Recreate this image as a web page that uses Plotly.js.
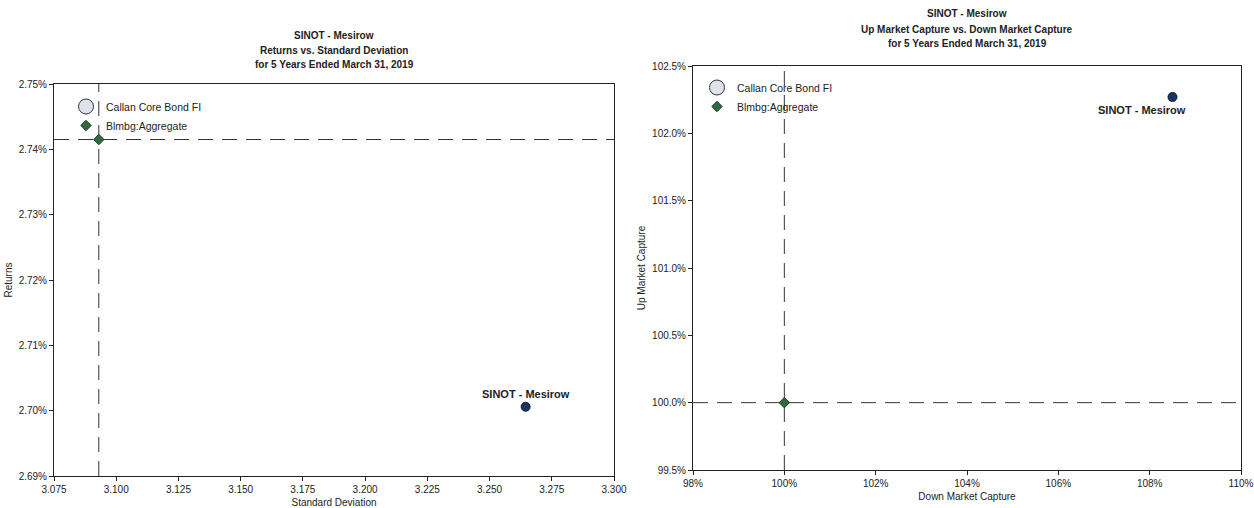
<!DOCTYPE html>
<html>
<head>
<meta charset="utf-8">
<script src="https://cdn.plot.ly/plotly-3.0.1.min.js"></script>
<style>
  html, body { margin: 0; padding: 0; background: #fff; }
  #chart { width: 1254px; height: 508px; }
</style>
</head>
<body>
<div id="chart"></div>
<script>
// ---- Data ----
const managerName = 'SINOT - Mesirow';
const benchmarkName = 'Blmbg:Aggregate';
const peerGroupName = 'Callan Core Bond FI';

// Returns vs Standard Deviation
const stdDev = [3.2645, 3.093];      // [manager, benchmark]
const returnsPct = [2.7006, 2.7415]; // [manager, benchmark]

// Up vs Down market capture
const downCapture = [108.5, 100.0];  // [manager, benchmark]
const upCapture = [102.27, 100.0];   // [manager, benchmark]

const leftTitle = ['SINOT - Mesirow', 'Returns vs. Standard Deviation', 'for 5 Years Ended March 31, 2019'];
const rightTitle = ['SINOT - Mesirow', 'Up Market Capture vs. Down Market Capture', 'for 5 Years Ended March 31, 2019'];

const leftXTicks = [3.075, 3.100, 3.125, 3.150, 3.175, 3.200, 3.225, 3.250, 3.275, 3.300];
const leftYTicks = [2.69, 2.70, 2.71, 2.72, 2.73, 2.74, 2.75];
const rightXTicks = [98, 100, 102, 104, 106, 108, 110];
const rightYTicks = [99.5, 100.0, 100.5, 101.0, 101.5, 102.0, 102.5];

// ---- Styles ----
const FONT = '"Liberation Sans", Arial, sans-serif';
const TXT = '#222';
const managerColor = '#1d3461';
const benchColor = '#2f6b3e';
const peerFill = '#dfe2ea';
const dashStyle = '15px,9px';

function axisBase(extra) {
  return Object.assign({
    showline: true, mirror: true, linecolor: '#222', linewidth: 1,
    ticks: 'outside', ticklen: 4, tickcolor: '#222', tickwidth: 1,
    showgrid: false, zeroline: false, fixedrange: true,
    tickfont: { family: FONT, size: 10, color: TXT },
    automargin: false, tickmode: 'array'
  }, extra);
}

const traces = [
  // Left chart
  { x: [null], y: [null], xaxis: 'x', yaxis: 'y', mode: 'markers', name: peerGroupName,
    legend: 'legend',
    marker: { symbol: 'circle', size: 15, color: peerFill, line: { color: '#333', width: 1 } } },
  { x: [stdDev[1]], y: [returnsPct[1]], xaxis: 'x', yaxis: 'y', mode: 'markers', name: benchmarkName,
    legend: 'legend',
    marker: { symbol: 'diamond', size: 8, color: benchColor, line: { color: '#1a3a22', width: 1 } } },
  { x: [stdDev[0]], y: [returnsPct[0]], xaxis: 'x', yaxis: 'y', mode: 'markers', name: managerName,
    showlegend: false,
    marker: { symbol: 'circle', size: 9, color: managerColor, line: { color: '#0e1a33', width: 1 } } },
  // Right chart
  { x: [null], y: [null], xaxis: 'x2', yaxis: 'y2', mode: 'markers', name: peerGroupName,
    legend: 'legend2',
    marker: { symbol: 'circle', size: 15, color: peerFill, line: { color: '#333', width: 1 } } },
  { x: [downCapture[1]], y: [upCapture[1]], xaxis: 'x2', yaxis: 'y2', mode: 'markers', name: benchmarkName,
    legend: 'legend2',
    marker: { symbol: 'diamond', size: 8, color: benchColor, line: { color: '#1a3a22', width: 1 } } },
  { x: [downCapture[0]], y: [upCapture[0]], xaxis: 'x2', yaxis: 'y2', mode: 'markers', name: managerName,
    showlegend: false,
    marker: { symbol: 'circle', size: 9, color: managerColor, line: { color: '#0e1a33', width: 1 } } }
];

const dashLine = { color: '#333', width: 1, dash: dashStyle };
const shapes = [
  { type: 'line', xref: 'x', yref: 'y domain', x0: stdDev[1], x1: stdDev[1], y0: 0, y1: 1, line: dashLine, layer: 'below' },
  { type: 'line', xref: 'x domain', yref: 'y', x0: 0, x1: 1, y0: returnsPct[1], y1: returnsPct[1], line: dashLine, layer: 'below' },
  { type: 'line', xref: 'x2', yref: 'y2 domain', x0: downCapture[1], x1: downCapture[1], y0: 0, y1: 1, line: dashLine, layer: 'below' },
  { type: 'line', xref: 'x2 domain', yref: 'y2', x0: 0, x1: 1, y0: upCapture[1], y1: upCapture[1], line: dashLine, layer: 'below' }
];

const titleFont = { family: FONT, size: 10, color: TXT };
function titleLines(lines, xc, yTops) {
  return lines.map((t, i) => ({
    xref: 'paper', yref: 'paper', x: xc, y: 1 - yTops[i] / 508, xanchor: 'center', yanchor: 'middle',
    text: '<b>' + t + '</b>', showarrow: false, font: titleFont
  }));
}
const annotations = [].concat(
  titleLines(leftTitle, (54 + 614) / 2 / 1254, [36, 50, 64]),
  titleLines(rightTitle, (693 + 1241) / 2 / 1254, [14, 29, 44]),
  [
    { xref: 'x', yref: 'y', x: stdDev[0], y: returnsPct[0], text: '<b>' + managerName + '</b>',
      showarrow: false, yshift: 13, font: { family: FONT, size: 11, color: TXT } },
    { xref: 'x2', yref: 'y2', x: downCapture[0], y: upCapture[0], text: '<b>' + managerName + '</b>',
      showarrow: false, yshift: -13, xshift: -31, font: { family: FONT, size: 11, color: TXT } }
  ]
);

const pct = (arr, d) => arr.map(v => v.toFixed(d) + '%');

const layout = {
  width: 1254, height: 508,
  margin: { l: 0, r: 0, t: 0, b: 0 },
  paper_bgcolor: '#fff', plot_bgcolor: '#fff',
  font: { family: FONT, size: 10, color: TXT },
  xaxis: axisBase({ domain: [54 / 1254, 614 / 1254], anchor: 'y', range: [3.075, 3.300],
    tickvals: leftXTicks, ticktext: leftXTicks.map(v => v.toFixed(3)),
    title: { text: 'Standard Deviation', font: { family: FONT, size: 10, color: TXT }, standoff: 4 } }),
  yaxis: axisBase({ domain: [32 / 508, 424 / 508], anchor: 'x', range: [2.69, 2.75],
    tickvals: leftYTicks, ticktext: pct(leftYTicks, 2),
    title: { text: 'Returns', font: { family: FONT, size: 10, color: TXT }, standoff: 4 } }),
  xaxis2: axisBase({ domain: [693 / 1254, 1241 / 1254], anchor: 'y2', range: [98, 110],
    tickvals: rightXTicks, ticktext: pct(rightXTicks, 0),
    title: { text: 'Down Market Capture', font: { family: FONT, size: 10, color: TXT }, standoff: 4 } }),
  yaxis2: axisBase({ domain: [38 / 508, 442 / 508], anchor: 'x2', range: [99.5, 102.5],
    tickvals: rightYTicks, ticktext: pct(rightYTicks, 1),
    title: { text: 'Up Market Capture', font: { family: FONT, size: 10, color: TXT }, standoff: 4 } }),
  legend: { x: 66 / 1254, y: 1 - 92 / 508, yanchor: 'top', xanchor: 'left',
    bgcolor: 'rgba(0,0,0,0)', font: { family: FONT, size: 10.5, color: TXT }, tracegroupgap: 0, itemwidth: 30 },
  legend2: { x: 697 / 1254, y: 1 - 73 / 508, yanchor: 'top', xanchor: 'left',
    bgcolor: 'rgba(0,0,0,0)', font: { family: FONT, size: 10.5, color: TXT }, tracegroupgap: 0, itemwidth: 30 },
  shapes: shapes,
  annotations: annotations,
  showlegend: true
};

Plotly.newPlot('chart', traces, layout, { displayModeBar: false, staticPlot: true });
</script>
</body>
</html>
